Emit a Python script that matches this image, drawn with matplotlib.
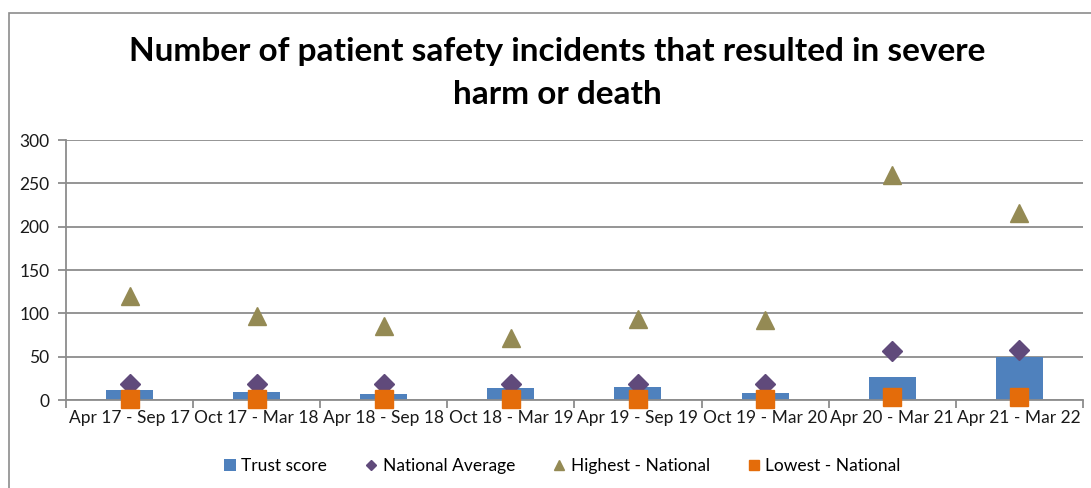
import numpy as np
import matplotlib.pyplot as plt
from matplotlib.patches import Rectangle

plt.rcParams['font.family'] = ['Lato', 'DejaVu Sans']

periods = ["Apr 17 - Sep 17", "Oct 17 - Mar 18", "Apr 18 - Sep 18", "Oct 18 - Mar 19",
           "Apr 19 - Sep 19", "Oct 19 - Mar 20", "Apr 20 - Mar 21", "Apr 21 - Mar 22"]
trust_score = [12, 9, 7, 14, 15, 8, 26, 50]
national_avg = [18, 19, 19, 19, 19, 19, 56, 58]
highest = [120, 97, 85, 71, 93, 92, 260, 216]
lowest = [1, 1, 1, 1, 1, 1, 4, 3]

fig = plt.figure(figsize=(10.91, 4.88), dpi=100)
ax = fig.add_axes([0.0605, 0.1803, 0.932, 0.5328])

# outer chart frame
fig.patches.append(Rectangle((9 / 1091, -0.05), 1.2, (488 - 13) / 488 + 0.05,
                             transform=fig.transFigure, fill=False,
                             edgecolor="#8c8c8c", lw=1.2))

x = np.arange(len(periods))
bars = ax.bar(x, trust_score, width=0.37, color="#4f81bd", label="Trust score", zorder=2)
avg, = ax.plot(x, national_avg, "D", color="#604a7b", ms=10, label="National Average",
               zorder=3, clip_on=False)
hi, = ax.plot(x, highest, "^", color="#948a54", ms=13.5, label="Highest - National",
              zorder=3, clip_on=False)
lo, = ax.plot(x, lowest, "s", color="#e46c0a", ms=12.5, label="Lowest - National",
              zorder=4, clip_on=False)

ax.set_xlim(-0.5, len(periods) - 0.5)
ax.set_ylim(0, 300)
ax.set_yticks(range(0, 301, 50))
ax.grid(axis="y", color="#8c8c8c", lw=1.3, zorder=0)
ax.set_axisbelow(True)
for s in ["top", "right"]:
    ax.spines[s].set_visible(False)
ax.spines["left"].set_color("#8c8c8c")
ax.spines["bottom"].set_color("#8c8c8c")
ax.spines["left"].set_linewidth(1.3)
ax.spines["bottom"].set_linewidth(1.3)

ax.set_xticks(x)
ax.set_xticklabels(periods, fontsize=12.5, color="#1a1a1a")
ax.tick_params(axis="x", length=0, pad=7)
ax.set_xticks(np.arange(-0.5, len(periods)), minor=True)
ax.tick_params(axis="x", which="minor", length=6, color="#8c8c8c", width=1.3)
ax.tick_params(axis="y", length=6, color="#8c8c8c", width=1.3, labelsize=12.5,
               labelcolor="#1a1a1a", pad=6)

fig.text(0.511, 0.85, "Number of patient safety incidents that resulted in severe\nharm or death",
         ha="center", va="center", fontsize=24, fontweight="bold", linespacing=1.6)

ax.legend([bars, avg, hi, lo],
          ["Trust score", "National Average", "Highest - National", "Lowest - National"],
          loc="center", bbox_to_anchor=(0.488, -0.255), ncol=4, frameon=False,
          fontsize=12.5, handlelength=0.7, handletextpad=0.3, columnspacing=2.2,
          markerscale=0.55)

plt.savefig("out.png", dpi=100)
